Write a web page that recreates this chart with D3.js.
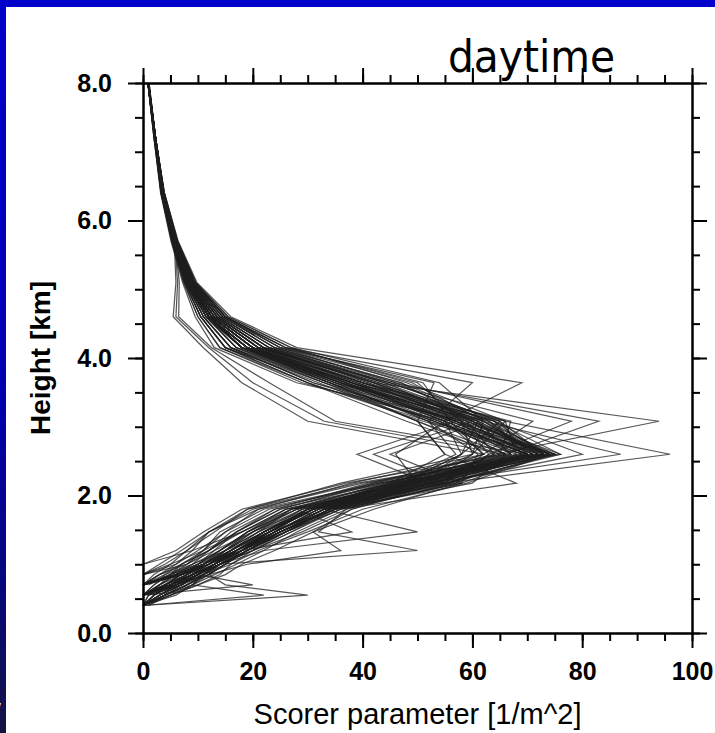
<!DOCTYPE html>
<html>
<head>
<meta charset="utf-8">
<script src="https://cdn.jsdelivr.net/npm/d3@7"></script>
<style>
  html, body { margin: 0; padding: 0; background: #0000cc; }
  svg { display: block; }
</style>
</head>
<body>
<script>
// DATA
// model levels (km) shared by every profile, bottom to top
const heightLevels = [0.4, 0.55, 0.7, 0.85, 1.0, 1.2, 1.47, 1.8, 2.18, 2.6, 3.08, 3.64, 4.15, 4.6, 5.1, 5.7, 6.4, 7.2, 8.0];

// Scorer parameter at each level, one row per profile (null = below ground)
const mainProfiles = [
  [null, 0, 5, 9, 13, 17, 23, 31, 47, 74, 57, 37, 19, 12, 8.2, 5.6, 3.5, 2.2, 1.0],
  [null, null, 0, 6, 11, 15, 19, 26, 50, 72, 62, 35, 18, 11.5, 8.0, 5.5, 3.4, 2.1, 0.9],
  [1, 4, 8, 12, 15, 19, 25, 34, 52, 75, 58, 39, 21, 13, 8.6, 5.8, 3.6, 2.2, 1.0],
  [null, null, null, 0, 8, 12, 16, 24, 46, 70, 53, 33, 15, 10.5, 7.6, 5.3, 3.3, 2.1, 0.9],
  [null, 1, 7, 10, 14, 18, 24, 33, 55, 76, 64, 40, 22, 13.5, 8.8, 5.9, 3.7, 2.3, 1.0],
  [null, null, 0, 5, 8, 11, 14, 22, 44, 68, 52, 34, 18, 12, 8.2, 5.6, 3.5, 2.2, 1.0],
  [0, 6, 9, 11, 14, 20, 27, 36, 58, 73, 60, 36, 20, 12.5, 8.4, 5.7, 3.5, 2.2, 1.0],
  [null, null, 1, 5, 10, 17, 24, 32, 49, 71, 58, 41, 23, 14, 9.0, 6.0, 3.7, 2.3, 1.0],
  [null, 0, 6, 10, 13, 18, 23, 30, 45, 66, 50, 33, 16, 11, 7.8, 5.4, 3.4, 2.1, 0.9],
  [null, null, null, 0, 6, 9, 12, 20, 40, 74, 63, 44, 24, 14.5, 9.2, 6.1, 3.8, 2.3, 1.0],
  [1, 5, 10, 14, 16, 20, 29, 38, 56, 70, 55, 38, 20, 12.5, 8.4, 5.7, 3.5, 2.2, 1.0],
  [null, 0, 4, 8, 12, 16, 22, 29, 47, 73, 61, 36, 18, 12, 8.2, 5.6, 3.5, 2.2, 1.0],
  [null, null, 0, 6, 11, 18, 25, 33, 51, 64, 50, 32, 15, 10.5, 7.6, 5.3, 3.3, 2.1, 0.9],
  [null, 1, 7, 11, 15, 19, 26, 34, 55, 75, 59, 42, 22, 13.5, 8.8, 5.9, 3.7, 2.3, 1.0],
  [null, null, 0, 3, 6, 10, 15, 23, 42, 69, 53, 34, 17, 11.5, 8.0, 5.5, 3.4, 2.1, 0.9],
  [0, 5, 9, 12, 15, 18, 23, 31, 50, 72, 56, 37, 20, 12.5, 8.4, 5.7, 3.5, 2.2, 1.0],
  [null, 0, 4, 7, 10, 14, 20, 28, 48, 73, 65, 45, 21, 13, 8.6, 5.8, 3.6, 2.2, 1.0],
  [null, null, null, null, 0, 9, 18, 27, 53, 74, 59, 38, 19, 12, 8.2, 5.6, 3.5, 2.2, 1.0]
];
const spreadProfiles = [
  [0, 3, 6, 8, 10, 13, 17, 24, 41, 65, 48, 30, 15, 10.5, 7.6, 5.3, 3.3, 2.1, 0.9],
  [null, 0, 3, 5, 7, 11, 15, 21, 38, 62, 55, 29, 14, 10, 7.4, 5.2, 3.3, 2.0, 0.9],
  [null, null, 0, 2, 5, 8, 12, 19, 36, 60, 58, 31, 16, 11, 7.8, 5.4, 3.4, 2.1, 0.9],
  [0, 2, 4, 7, 11, 16, 21, 27, 44, 67, 61, 43, 21, 13, 8.6, 5.8, 3.6, 2.2, 1.0],
  [null, null, null, 0, 4, 8, 13, 19, 39, 71, 57, 35, 17, 11.5, 8.0, 5.5, 3.4, 2.1, 0.9],
  [null, null, null, null, 0, 6, 11, 18, 37, 66, 54, 31, 16, 11, 7.8, 5.4, 3.4, 2.1, 0.9],
  [0, 4, 9, 13, 17, 22, 28, 37, 57, 70, 63, 46, 25, 15, 9.4, 6.2, 3.8, 2.3, 1.0],
  [null, 0, 4, 9, 14, 20, 27, 35, 53, 68, 66, 48, 27, 15.5, 9.6, 6.3, 3.9, 2.3, 1.1],
  [0, 1, 3, 6, 9, 12, 17, 25, 43, 72, 60, 39, 18, 12, 8.2, 5.6, 3.5, 2.2, 1.0],
  [null, 0, 2, 4, 7, 12, 18, 26, 45, 74, 57, 34, 16, 11, 7.8, 5.4, 3.4, 2.1, 0.9],
  [null, null, 0, 4, 9, 14, 19, 28, 49, 75, 62, 43, 22, 13.5, 8.8, 5.9, 3.7, 2.3, 1.0],
  [0, 2, 5, 9, 12, 15, 20, 29, 51, 73, 64, 41, 20, 12.5, 8.4, 5.7, 3.5, 2.2, 1.0],
  [null, 0, 6, 11, 16, 21, 30, 40, 59, 74, 61, 39, 20, 12.5, 8.4, 5.7, 3.5, 2.2, 1.0],
  [null, null, 0, 3, 8, 13, 20, 30, 54, 63, 58, 37, 19, 12, 8.2, 5.6, 3.5, 2.2, 1.0],
  [0, 3, 7, 10, 13, 16, 22, 32, 52, 60, 62, 49, 25, 14.5, 9.2, 6.1, 3.8, 2.3, 1.0],
  [null, 0, 3, 6, 10, 14, 19, 28, 46, 65, 67, 40, 21, 13, 8.6, 5.8, 3.6, 2.2, 1.0],
  [null, null, null, 0, 3, 7, 12, 21, 43, 73, 51, 30, 15, 10.5, 7.6, 5.3, 3.3, 2.1, 0.9],
  [0, 4, 8, 12, 14, 17, 22, 31, 56, 67, 60, 44, 23, 14, 9.0, 6.0, 3.7, 2.3, 1.0],
  [null, 0, 2, 5, 9, 15, 23, 35, 60, 66, 54, 33, 17, 11.5, 8.0, 5.5, 3.4, 2.1, 0.9],
  [0, 5, 10, 15, 18, 24, 31, 42, 58, 61, 52, 35, 19, 12, 8.2, 5.6, 3.5, 2.2, 1.0],
  [null, null, 0, 5, 10, 15, 21, 29, 47, 69, 64, 47, 24, 14.5, 9.2, 6.1, 3.8, 2.3, 1.0],
  [0, 2, 5, 8, 11, 15, 20, 27, 45, 62, 56, 51, 26, 15, 9.4, 6.2, 3.8, 2.3, 1.0],
  [null, 0, 4, 8, 12, 17, 25, 35, 56, 75, 52, 30, 14, 10, 7.4, 5.2, 3.3, 2.0, 0.9],
  [null, null, null, 0, 5, 11, 18, 26, 48, 71, 63, 36, 18, 12, 8.2, 5.6, 3.5, 2.2, 1.0],
  [0, 1, 4, 7, 12, 18, 24, 33, 50, 58, 61, 42, 22, 13.5, 8.8, 5.9, 3.7, 2.3, 1.0],
  [null, 0, 5, 9, 13, 18, 24, 30, 46, 73, 59, 28, 13, 9.5, 7.2, 5.1, 3.2, 2.0, 0.9],
  [0, 3, 6, 9, 11, 14, 19, 27, 49, 76, 60, 40, 20, 12.5, 8.4, 5.7, 3.5, 2.2, 1.0],
  [null, null, 0, 3, 7, 12, 17, 25, 42, 64, 59, 38, 19, 12, 8.2, 5.6, 3.5, 2.2, 1.0],
  [null, 0, 3, 7, 11, 15, 21, 31, 53, 70, 65, 45, 23, 14, 9.0, 6.0, 3.7, 2.3, 1.0],
  [0, 2, 6, 10, 14, 20, 26, 34, 50, 67, 57, 36, 18, 12, 8.2, 5.6, 3.5, 2.2, 1.0]
];
const upperPeakProfiles = [
  [null, 0, 6, 10, 14, 19, 26, 34, 52, 64, 94, 42, 22, 13.5, 8.8, 5.9, 3.7, 2.3, 1.0],
  [null, null, 0, 7, 12, 17, 24, 33, 50, 66, 83, 45, 22, 13.5, 8.8, 5.9, 3.7, 2.3, 1.0],
  [null, 0, 6, 10, 13, 18, 25, 35, 55, 62, 71, 44, 21, 13, 8.6, 5.8, 3.6, 2.2, 1.0],
  [null, null, 0, 6, 11, 16, 23, 31, 48, 60, 66, 40, 20, 12.5, 8.4, 5.7, 3.5, 2.2, 1.0],
  [0, 4, 8, 11, 14, 19, 26, 36, 57, 63, 78, 46, 23, 14, 9.0, 6.0, 3.7, 2.3, 1.0],
  [null, 0, 5, 9, 12, 16, 22, 30, 47, 58, 65, 38, 19, 12, 8.2, 5.6, 3.5, 2.2, 1.0]
];
const fanProfiles = [
  [null, 0, 5, 9, 13, 18, 24, 32, 47, 58, 55, 69, 28, 16, 9.8, 6.4, 3.9, 2.3, 1.1],
  [null, null, 0, 7, 12, 17, 23, 31, 46, 57, 52, 60, 26, 15, 9.4, 6.2, 3.8, 2.3, 1.0],
  [null, 0, 4, 8, 12, 16, 22, 30, 45, 55, 50, 53, 25, 15, 9.4, 6.2, 3.8, 2.3, 1.0],
  [null, 0, 5, 9, 13, 17, 24, 32, 49, 70, 58, 50, 26, 15, 9.4, 6.2, 3.8, 2.3, 1.0],
  [null, null, 0, 6, 11, 16, 22, 31, 51, 72, 62, 54, 27, 15.5, 9.6, 6.3, 3.9, 2.3, 1.1],
  [0, 3, 7, 10, 13, 18, 25, 34, 53, 74, 60, 47, 24, 14.5, 9.2, 6.1, 3.8, 2.3, 1.0]
];
const strongPeakProfiles = [
  [null, 0, 5, 10, 14, 19, 25, 34, 55, 96, 66, 42, 21, 13, 8.6, 5.8, 3.6, 2.2, 1.0],
  [null, null, 0, 7, 12, 17, 24, 33, 52, 87, 62, 40, 20, 12.5, 8.4, 5.7, 3.5, 2.2, 1.0],
  [0, 3, 7, 11, 14, 18, 25, 35, 54, 80, 64, 38, 20, 12.5, 8.4, 5.7, 3.5, 2.2, 1.0]
];
const notchProfiles = [
  [null, 0, 5, 9, 13, 18, 24, 33, 52, 39, 57, 38, 19, 12, 8.2, 5.6, 3.5, 2.2, 1.0],
  [null, null, 0, 7, 12, 17, 23, 31, 55, 42, 60, 40, 20, 12.5, 8.4, 5.7, 3.5, 2.2, 1.0],
  [0, 4, 8, 11, 14, 19, 26, 35, 58, 45, 62, 42, 21, 13, 8.6, 5.8, 3.6, 2.2, 1.0],
  [null, null, 0, 6, 11, 16, 22, 30, 50, 46, 55, 36, 18, 12, 8.2, 5.6, 3.5, 2.2, 1.0],
  [null, 0, 5, 9, 13, 18, 26, 36, 68, 55, 50, 34, 18, 11.5, 8.0, 5.5, 3.4, 2.1, 0.9]
];
const lowOutlierProfiles = [
  [null, 0, 6, 10, 14, 22, 50, 33, 48, 70, 55, 36, 19, 12, 8.2, 5.6, 3.5, 2.2, 1.0],
  [null, 0, 5, 9, 14, 50, 32, 37, 52, 70, 54, 35, 18, 11.5, 8.0, 5.5, 3.4, 2.1, 0.9],
  [null, null, 0, 7, 12, 18, 38, 28, 47, 69, 53, 34, 18, 12, 8.2, 5.6, 3.5, 2.2, 1.0],
  [0, 30, 15, 12, 15, 19, 25, 33, 50, 72, 56, 37, 19, 12, 8.2, 5.6, 3.5, 2.2, 1.0],
  [null, 0, 20, 10, 13, 17, 23, 31, 48, 70, 55, 36, 19, 12, 8.2, 5.6, 3.5, 2.2, 1.0],
  [0, 22, 9, 11, 14, 19, 25, 34, 52, 73, 57, 38, 20, 12.5, 8.4, 5.7, 3.5, 2.2, 1.0],
  [null, 0, 6, 12, 19, 36, 31, 38, 54, 71, 56, 37, 19, 12, 8.2, 5.6, 3.5, 2.2, 1.0]
];
const upperKinkProfiles = [
  [null, 0, 5, 9, 13, 17, 23, 31, 47, 62, 30, 18, 11, 5.5, 6.0, 5.7, 3.5, 2.2, 1.0],
  [null, null, 0, 7, 12, 16, 22, 30, 48, 66, 33, 20, 12, 6.0, 6.3, 5.8, 3.6, 2.2, 1.0],
  [0, 4, 7, 10, 13, 17, 23, 31, 50, 70, 35, 23, 12.5, 6.5, 6.6, 5.9, 3.6, 2.2, 1.0]
];

const xMajorTicks = [0, 20, 40, 60, 80, 100];
const xTickLabels = ['0', '20', '40', '60', '80', '100'];
const yMajorTicks = [0, 2, 4, 6, 8];
const yTickLabels = ['0.0', '2.0', '4.0', '6.0', '8.0'];
const titleText = 'daytime';
const xTitle = 'Scorer parameter [1/m^2]';
const yTitle = 'Height [km]';

// DEFS
const width = 715;
const height = 733;
const plot = {left: 143, right: 692, top: 83, bottom: 633};
const majorTick = 15;
const minorTick = 8;
const tickFont = 'bold 25px "Liberation Sans", Arial, sans-serif';

const svg = d3.select('body').append('svg').attr('width', width).attr('height', height);

// slide background
const grad = svg.append('defs').append('linearGradient')
    .attr('id', 'slideBlue').attr('x1', 0).attr('x2', 0).attr('y1', 0).attr('y2', 1);
grad.append('stop').attr('offset', '0%').attr('stop-color', '#0000cc');
grad.append('stop').attr('offset', '50%').attr('stop-color', '#0000b4');
grad.append('stop').attr('offset', '80%').attr('stop-color', '#07077c');
grad.append('stop').attr('offset', '100%').attr('stop-color', '#141442');

svg.append('rect').attr('width', width).attr('height', height).attr('fill', 'url(#slideBlue)');
svg.append('text')
    .attr('x', -14).attr('y', 736)
    .style('font', '44px "DejaVu Sans", sans-serif')
    .attr('fill', '#ffffff')
    .text('/');
svg.append('rect').attr('x', 6).attr('y', 7).attr('width', width - 6).attr('height', height - 7).attr('fill', '#ffffff');

// SCALES
const x = d3.scaleLinear().domain([0, 100]).range([plot.left, plot.right]);
const y = d3.scaleLinear().domain([0, 8]).range([plot.bottom, plot.top]);

// PROFILES
const allProfiles = [].concat(mainProfiles, spreadProfiles, upperPeakProfiles, fanProfiles,
    strongPeakProfiles, notchProfiles, lowOutlierProfiles, upperKinkProfiles);

const line = d3.line()
    .defined(d => d[0] != null)
    .x(d => x(d[0]))
    .y(d => y(d[1]));

svg.append('g').attr('class', 'profiles')
  .selectAll('path')
  .data(allProfiles)
  .enter().append('path')
    .attr('d', p => line(p.map((v, i) => [v, heightLevels[i]])))
    .attr('fill', 'none')
    .attr('stroke', '#1f1f1f')
    .attr('stroke-opacity', 0.75)
    .attr('stroke-width', 1.25);

// AXES
const styleAxis = g => {
    g.select('.domain').attr('stroke', '#000').attr('stroke-width', 2);
    g.selectAll('.tick line').attr('stroke', '#000').attr('stroke-width', 2);
    g.selectAll('.tick text').style('font', tickFont).attr('fill', '#000');
};

const xMinor = d3.range(0, 101, 5);
const yMinor = d3.range(0, 8.01, 0.5);

// minor ticks first, majors on top
svg.append('g').attr('transform', `translate(0,${plot.bottom})`)
    .call(d3.axisBottom(x).tickValues(xMinor).tickSize(minorTick).tickSizeOuter(0).tickFormat(''))
    .call(styleAxis);
svg.append('g').attr('transform', `translate(0,${plot.top})`)
    .call(d3.axisTop(x).tickValues(xMinor).tickSize(minorTick).tickSizeOuter(0).tickFormat(''))
    .call(styleAxis);
svg.append('g').attr('transform', `translate(${plot.left},0)`)
    .call(d3.axisLeft(y).tickValues(yMinor).tickSize(minorTick).tickSizeOuter(0).tickFormat(''))
    .call(styleAxis);
svg.append('g').attr('transform', `translate(${plot.right},0)`)
    .call(d3.axisRight(y).tickValues(yMinor).tickSize(minorTick).tickSizeOuter(0).tickFormat(''))
    .call(styleAxis);

svg.append('g').attr('transform', `translate(0,${plot.bottom})`)
    .call(d3.axisBottom(x).tickValues(xMajorTicks).tickSize(majorTick).tickSizeOuter(0)
        .tickPadding(14).tickFormat((d, i) => xTickLabels[i]))
    .call(styleAxis);
svg.append('g').attr('transform', `translate(0,${plot.top})`)
    .call(d3.axisTop(x).tickValues(xMajorTicks).tickSize(majorTick).tickSizeOuter(0).tickFormat(''))
    .call(styleAxis);
svg.append('g').attr('transform', `translate(${plot.left},0)`)
    .call(d3.axisLeft(y).tickValues(yMajorTicks).tickSize(majorTick).tickSizeOuter(0)
        .tickPadding(16).tickFormat((d, i) => yTickLabels[i]))
    .call(styleAxis);
svg.append('g').attr('transform', `translate(${plot.right},0)`)
    .call(d3.axisRight(y).tickValues(yMajorTicks).tickSize(majorTick).tickSizeOuter(0).tickFormat(''))
    .call(styleAxis);

// TITLES
svg.append('text')
    .attr('x', 448).attr('y', 72)
    .attr('textLength', 167).attr('lengthAdjust', 'spacingAndGlyphs')
    .style('font', '45px "DejaVu Sans Condensed", "DejaVu Sans", sans-serif')
    .attr('fill', '#000')
    .text(titleText);

svg.append('text')
    .attr('x', (plot.left + plot.right) / 2).attr('y', 724)
    .attr('text-anchor', 'middle')
    .style('font', '29px "Liberation Sans", Arial, sans-serif')
    .attr('fill', '#000')
    .text(xTitle);

svg.append('text')
    .attr('transform', `translate(50,${(plot.top + plot.bottom) / 2}) rotate(-90)`)
    .attr('text-anchor', 'middle')
    .style('font', 'bold 28px "Liberation Sans", Arial, sans-serif')
    .attr('fill', '#000')
    .text(yTitle);
</script>
</body>
</html>
